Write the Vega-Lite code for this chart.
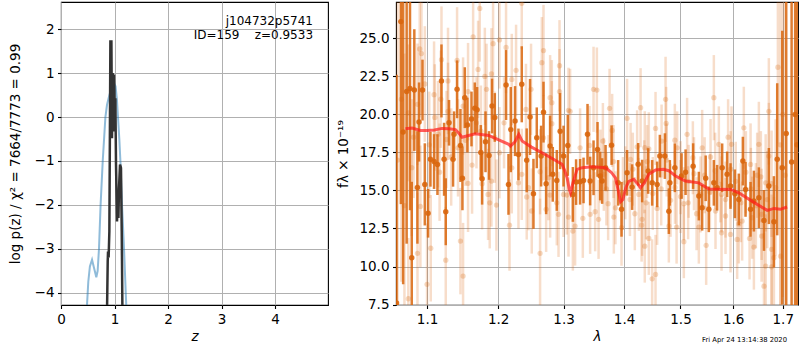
{
"$schema": "https://vega.github.io/schema/vega-lite/v6.json",
"padding": {"left": 7, "top": 1, "right": 0, "bottom": 0},
"spacing": 7,
"config": {
  "font": "DejaVu Sans",
  "view": {"stroke": "black", "strokeWidth": 1.1},
  "axis": {"domain": false, "grid": true, "gridColor": "#b0b0b0", "gridWidth": 1, "tickColor": "black", "tickSize": 3.5, "tickWidth": 1.1, "labelFontSize": 13.5, "labelColor": "black", "titleFontSize": 13.5, "titleFontWeight": "normal", "titleColor": "black", "labelPadding": 3.5, "labelFlush": false, "labelOverlap": false},
  "title": {"font": "DejaVu Sans", "color": "black"}
},
"datasets": {
  "blue": [
    {"z":0.47,"logp":-4.7},{"z":0.486,"logp":-4.28},{"z":0.51,"logp":-3.75},{"z":0.54,"logp":-3.4},{"z":0.58,"logp":-3.25},{"z":0.62,"logp":-3.45},{"z":0.66,"logp":-3.65},{"z":0.685,"logp":-3.5},{"z":0.71,"logp":-3.0},{"z":0.74,"logp":-2.0},{"z":0.78,"logp":-1.0},{"z":0.83,"logp":0.0},{"z":0.86,"logp":0.28},{"z":0.9,"logp":0.48},{"z":0.94,"logp":0.65},{"z":0.985,"logp":0.78},{"z":1.02,"logp":0.7},{"z":1.045,"logp":0.4},{"z":1.065,"logp":0.0},{"z":1.09,"logp":-0.5},{"z":1.11,"logp":-1.0},{"z":1.14,"logp":-2.0},{"z":1.178,"logp":-3.0},{"z":1.21,"logp":-4.0},{"z":1.23,"logp":-4.6}
  ],
  "black": [
    {"z":0.86,"logp":-4.43},{"z":0.873,"logp":-3.29},{"z":0.879,"logp":-3.06},{"z":0.89,"logp":-3.2},{"z":0.904,"logp":-2.6},{"z":0.923,"logp":1.72},{"z":0.942,"logp":1.72},{"z":0.953,"logp":-0.48},{"z":0.966,"logp":1.0},{"z":0.979,"logp":-0.33},{"z":0.991,"logp":0.97},{"z":1.004,"logp":0.05},{"z":1.016,"logp":0.43},{"z":1.028,"logp":-1.08},{"z":1.047,"logp":-2.38},{"z":1.06,"logp":-1.69},{"z":1.073,"logp":-2.3},{"z":1.084,"logp":-1.62},{"z":1.103,"logp":-1.08},{"z":1.121,"logp":-1.16},{"z":1.135,"logp":-2.6},{"z":1.148,"logp":-4.43}
  ],
  "light": [
    {"lam":1.061,"flux":17,"err":12},{"lam":1.066,"flux":21,"err":12},{"lam":1.07,"flux":14,"err":10},
    {"lam":1.0751,"flux":20.1,"err":4.5},{"lam":1.0751,"flux":7.88,"err":4},{"lam":1.0796,"flux":16.5,"err":4.5},{"lam":1.082,"flux":18.5,"err":4},{"lam":1.0872,"flux":20.66,"err":4},{"lam":1.0872,"flux":10.86,"err":4},{"lam":1.0902,"flux":24.3,"err":4.5},{"lam":1.0911,"flux":13.95,"err":4},{"lam":1.0925,"flux":24.0,"err":4},{"lam":1.097,"flux":22.0,"err":3.8},{"lam":1.1,"flux":8.83,"err":4},{"lam":1.103,"flux":18.0,"err":3.5},{"lam":1.105,"flux":11.2,"err":3.5},{"lam":1.1095,"flux":21.3,"err":3.5},{"lam":1.1105,"flux":19.8,"err":3.5},{"lam":1.1149,"flux":18.7,"err":3.5},{"lam":1.117,"flux":16.2,"err":3.2},{"lam":1.1187,"flux":21.0,"err":3.2},{"lam":1.1196,"flux":23.6,"err":3.5},{"lam":1.1255,"flux":10.42,"err":3.5},{"lam":1.1265,"flux":18.35,"err":3.2},{"lam":1.1286,"flux":22.2,"err":3.5},{"lam":1.1286,"flux":20.2,"err":3.2},{"lam":1.133,"flux":17.2,"err":3.2},{"lam":1.1412,"flux":23.55,"err":3.5},{"lam":1.1425,"flux":17.8,"err":3.2},{"lam":1.1459,"flux":11.67,"err":3.5},{"lam":1.1496,"flux":20.55,"err":3.2},{"lam":1.1496,"flux":9.37,"err":3.5},{"lam":1.153,"flux":18.3,"err":3},{"lam":1.1566,"flux":21.5,"err":3.2},{"lam":1.1566,"flux":15.47,"err":3.2},{"lam":1.1623,"flux":16.67,"err":3.2},{"lam":1.1638,"flux":25.1,"err":3.5},{"lam":1.1686,"flux":19.45,"err":3.0},{"lam":1.1709,"flux":22.96,"err":3.2},{"lam":1.1733,"flux":26.97,"err":3.5},{"lam":1.175,"flux":18.9,"err":3},{"lam":1.1767,"flux":15.44,"err":3.0},{"lam":1.1806,"flux":22.5,"err":3.2},{"lam":1.1831,"flux":21.65,"err":3.0},{"lam":1.1853,"flux":14.74,"err":3.0},{"lam":1.1877,"flux":14.19,"err":3.0},{"lam":1.1902,"flux":22.67,"err":3.0},{"lam":1.1902,"flux":15.62,"err":3.0},{"lam":1.1926,"flux":24.65,"err":3.2},{"lam":1.195,"flux":18.5,"err":3},{"lam":1.1975,"flux":14.04,"err":3.0},
    {"lam":1.2019,"flux":24.9,"err":3.2},{"lam":1.2019,"flux":17.48,"err":3.0},{"lam":1.2087,"flux":19.45,"err":3.0},{"lam":1.2117,"flux":24.4,"err":3.0},{"lam":1.2168,"flux":12.72,"err":3.0},{"lam":1.2202,"flux":22.3,"err":3.0},{"lam":1.2202,"flux":16.49,"err":3.0},{"lam":1.2266,"flux":22.9,"err":3.0},{"lam":1.2302,"flux":15.5,"err":3.0},{"lam":1.2352,"flux":27.3,"err":3.0},{"lam":1.2352,"flux":16.06,"err":3.0},{"lam":1.2416,"flux":20.33,"err":3.0},{"lam":1.2427,"flux":14.57,"err":2.8},{"lam":1.2454,"flux":15.18,"err":2.8},{"lam":1.2493,"flux":21.65,"err":3.0},{"lam":1.2504,"flux":13.65,"err":2.8},{"lam":1.2632,"flux":16.23,"err":2.8},{"lam":1.2632,"flux":10.86,"err":3.6},{"lam":1.2659,"flux":23.4,"err":3.0},{"lam":1.2685,"flux":24.2,"err":3.0},{"lam":1.2685,"flux":18.46,"err":2.8},{"lam":1.2726,"flux":13.76,"err":2.8},{"lam":1.2762,"flux":15.84,"err":2.8},{"lam":1.2788,"flux":21.1,"err":2.8},{"lam":1.2788,"flux":14.7,"err":2.8},{"lam":1.2815,"flux":20.77,"err":2.8},{"lam":1.2815,"flux":19.39,"err":2.8},{"lam":1.2893,"flux":14.19,"err":2.8},{"lam":1.292,"flux":13.43,"err":2.8},{"lam":1.2936,"flux":23.2,"err":3.0},{"lam":1.2936,"flux":21.5,"err":2.8},{"lam":1.3,"flux":14.74,"err":2.8},{"lam":1.3052,"flux":14.7,"err":2.6},{"lam":1.3079,"flux":20.27,"err":2.8},{"lam":1.3079,"flux":13.25,"err":2.6},{"lam":1.3105,"flux":20.2,"err":2.8},{"lam":1.3149,"flux":12.33,"err":2.6},{"lam":1.3185,"flux":12.66,"err":2.6},{"lam":1.3266,"flux":17.8,"err":2.6},{"lam":1.331,"flux":13.17,"err":2.6},{"lam":1.342,"flux":17.96,"err":2.6},{"lam":1.343,"flux":13.43,"err":2.6},{"lam":1.3486,"flux":21.65,"err":2.8},{"lam":1.3513,"flux":13.6,"err":2.6},{"lam":1.3541,"flux":21.6,"err":2.8},{"lam":1.3569,"flux":13.1,"err":2.6},
    {"lam":1.36,"flux":16.6,"err":2.4},{"lam":1.3641,"flux":18.25,"err":2.5},{"lam":1.3657,"flux":16.06,"err":2.4},{"lam":1.37,"flux":15.1,"err":2.4},{"lam":1.3729,"flux":14.13,"err":2.4},{"lam":1.3753,"flux":20.4,"err":2.6},{"lam":1.3797,"flux":18.95,"err":2.4},{"lam":1.382,"flux":16.9,"err":2.4},{"lam":1.3825,"flux":13.25,"err":2.4},{"lam":1.3853,"flux":13.86,"err":2.4},{"lam":1.3956,"flux":12.55,"err":2.5},{"lam":1.398,"flux":14.8,"err":2.4},{"lam":1.402,"flux":15.5,"err":2.4},{"lam":1.4051,"flux":19.74,"err":2.6},{"lam":1.41,"flux":14.4,"err":2.4},{"lam":1.4111,"flux":17.04,"err":2.4},{"lam":1.415,"flux":16.4,"err":2.4},{"lam":1.4185,"flux":13.47,"err":2.4},{"lam":1.4225,"flux":17.87,"err":2.4},{"lam":1.4255,"flux":14.74,"err":2.4},{"lam":1.4285,"flux":20.44,"err":2.6},{"lam":1.4303,"flux":12.72,"err":2.4},{"lam":1.4313,"flux":13.1,"err":2.4},{"lam":1.435,"flux":15.9,"err":2.4},{"lam":1.4359,"flux":17.81,"err":2.4},{"lam":1.4359,"flux":11.34,"err":2.4},{"lam":1.4382,"flux":14.19,"err":2.4},{"lam":1.44,"flux":16.9,"err":2.4},{"lam":1.443,"flux":17.74,"err":2.4},{"lam":1.443,"flux":11.85,"err":2.4},{"lam":1.4489,"flux":9.19,"err":2.6},{"lam":1.45,"flux":14.8,"err":2.4},{"lam":1.4549,"flux":19.08,"err":2.4},{"lam":1.4549,"flux":9.48,"err":2.6},{"lam":1.4578,"flux":13.82,"err":2.4},{"lam":1.4657,"flux":18.25,"err":2.4},{"lam":1.465,"flux":15.1,"err":2.4},{"lam":1.4729,"flux":20.99,"err":2.8},{"lam":1.474,"flux":19.41,"err":2.4},{"lam":1.475,"flux":17.0,"err":2.4},{"lam":1.4788,"flux":12.66,"err":2.4},{"lam":1.4819,"flux":14.35,"err":2.4},{"lam":1.4897,"flux":18.3,"err":2.4},{"lam":1.49,"flux":15.2,"err":2.4},{"lam":1.4929,"flux":12.59,"err":2.4},{"lam":1.4939,"flux":17.8,"err":2.4},{"lam":1.5,"flux":14.6,"err":2.4},{"lam":1.5001,"flux":15.84,"err":2.4},{"lam":1.5062,"flux":14.13,"err":2.4},{"lam":1.5062,"flux":11.63,"err":2.4},{"lam":1.5122,"flux":18.69,"err":2.4},{"lam":1.5141,"flux":14.19,"err":2.4},{"lam":1.515,"flux":15.6,"err":2.4},{"lam":1.5229,"flux":17.15,"err":2.4},{"lam":1.525,"flux":16.1,"err":2.4},{"lam":1.5298,"flux":13.47,"err":2.4},{"lam":1.5341,"flux":12.59,"err":2.4},
    {"lam":1.5373,"flux":14.74,"err":2.5},{"lam":1.5403,"flux":17.8,"err":2.5},{"lam":1.545,"flux":16.0,"err":2.5},{"lam":1.5479,"flux":11.39,"err":2.6},{"lam":1.555,"flux":14.9,"err":2.5},{"lam":1.5562,"flux":17.2,"err":2.5},{"lam":1.5625,"flux":21.1,"err":2.8},{"lam":1.565,"flux":16.3,"err":2.5},{"lam":1.5657,"flux":13.65,"err":2.5},{"lam":1.5721,"flux":18.03,"err":2.5},{"lam":1.575,"flux":15.4,"err":2.5},{"lam":1.5773,"flux":14.74,"err":2.5},{"lam":1.5773,"flux":12.22,"err":2.5},{"lam":1.585,"flux":13.32,"err":2.5},{"lam":1.585,"flux":14.4,"err":2.5},{"lam":1.59,"flux":18.5,"err":2.5},{"lam":1.595,"flux":16.4,"err":2.5},{"lam":1.5947,"flux":12.11,"err":2.5},{"lam":1.5967,"flux":18.03,"err":2.5},{"lam":1.605,"flux":15.6,"err":2.6},{"lam":1.6077,"flux":11.78,"err":2.6},{"lam":1.611,"flux":12.8,"err":2.6},{"lam":1.615,"flux":14.2,"err":2.6},{"lam":1.6176,"flux":12.99,"err":2.6},{"lam":1.6209,"flux":19.12,"err":2.7},{"lam":1.625,"flux":16.2,"err":2.7},{"lam":1.6323,"flux":11.85,"err":2.7},{"lam":1.6343,"flux":16.71,"err":2.7},{"lam":1.635,"flux":15.1,"err":2.7},{"lam":1.6375,"flux":13.21,"err":2.7},{"lam":1.641,"flux":11.28,"err":2.8},{"lam":1.645,"flux":14.0,"err":2.8},{"lam":1.6476,"flux":16.0,"err":2.8},{"lam":1.651,"flux":18.03,"err":2.8},{"lam":1.655,"flux":15.9,"err":3.0},{"lam":1.6565,"flux":13.43,"err":3.0},{"lam":1.6565,"flux":12.0,"err":3.0},{"lam":1.6614,"flux":8.71,"err":3.5},{"lam":1.6648,"flux":15.5,"err":3.2},{"lam":1.6648,"flux":10.03,"err":3.4},{"lam":1.668,"flux":14.4,"err":3.2},{"lam":1.6713,"flux":20.2,"err":3.5},{"lam":1.6713,"flux":17.26,"err":3.5},{"lam":1.6769,"flux":15.44,"err":3.5},{"lam":1.6769,"flux":11.13,"err":3.6},{"lam":1.6769,"flux":9.98,"err":3.8},{"lam":1.6817,"flux":10.58,"err":4},{"lam":1.6852,"flux":15.18,"err":4.5},{"lam":1.6899,"flux":23.1,"err":5},{"lam":1.6955,"flux":10.68,"err":6},{"lam":1.695,"flux":18,"err":12},{"lam":1.7,"flux":20,"err":12},{"lam":1.705,"flux":16,"err":12}
  ],
  "dark": [
    {"lam":1.0597,"flux":7.6,"err":15},{"lam":1.0653,"flux":26.1,"err":12},{"lam":1.0683,"flux":18.84,"err":10},{"lam":1.0729,"flux":21.5,"err":10},{"lam":1.0773,"flux":21.7,"err":8},{"lam":1.0796,"flux":10.57,"err":5},{"lam":1.083,"flux":21.6,"err":4},{"lam":1.0871,"flux":15.2,"err":3.7},{"lam":1.0893,"flux":19.5,"err":2.6},{"lam":1.0939,"flux":21.6,"err":2},{"lam":1.097,"flux":15.4,"err":2.7},{"lam":1.1014,"flux":13.5,"err":1.6},{"lam":1.1046,"flux":17.05,"err":1.8},{"lam":1.1095,"flux":16.9,"err":1.8},{"lam":1.1141,"flux":16.7,"err":2},{"lam":1.1196,"flux":22.2,"err":2.4},{"lam":1.1232,"flux":17.05,"err":2.4},{"lam":1.1255,"flux":13.6,"err":2.2},{"lam":1.13,"flux":19.45,"err":1.5},{"lam":1.1356,"flux":17.05,"err":1.8},{"lam":1.137,"flux":18.7,"err":1.5},{"lam":1.1412,"flux":21.65,"err":1.9},{"lam":1.1459,"flux":17.96,"err":2.4},{"lam":1.1487,"flux":15.8,"err":2.1},{"lam":1.152,"flux":21.1,"err":2},{"lam":1.1557,"flux":19.3,"err":1.8},{"lam":1.1615,"flux":19.7,"err":1.8},{"lam":1.1662,"flux":20.4,"err":1.7},{"lam":1.1695,"flux":20.3,"err":1.5},{"lam":1.1748,"flux":17.5,"err":1.8},{"lam":1.1767,"flux":15.77,"err":1.7},{"lam":1.1816,"flux":18.2,"err":2},{"lam":1.1867,"flux":17.3,"err":1.6},{"lam":1.1911,"flux":20.55,"err":1.8},{"lam":1.1951,"flux":19.8,"err":1.6},
    {"lam":1.2117,"flux":21.93,"err":2.3},{"lam":1.2153,"flux":15.4,"err":2},{"lam":1.2187,"flux":19.0,"err":2.8},{"lam":1.2251,"flux":19.56,"err":2.3},{"lam":1.2302,"flux":17.37,"err":1.7},{"lam":1.2352,"flux":21.98,"err":2.5},{"lam":1.2427,"flux":16.98,"err":2.1},{"lam":1.2478,"flux":19.83,"err":2.5},{"lam":1.253,"flux":14.78,"err":2.3},{"lam":1.2581,"flux":18.46,"err":2},{"lam":1.2648,"flux":17.26,"err":2},{"lam":1.2685,"flux":20.15,"err":2},{"lam":1.2726,"flux":15.44,"err":2},{"lam":1.2788,"flux":17.92,"err":2},{"lam":1.283,"flux":16.06,"err":1.8},{"lam":1.2893,"flux":15.66,"err":2},{"lam":1.2946,"flux":18.9,"err":2.5},{"lam":1.3,"flux":17.26,"err":2},{"lam":1.3068,"flux":17.96,"err":2},{"lam":1.3149,"flux":14.74,"err":1.8},{"lam":1.3201,"flux":15.55,"err":1.5},{"lam":1.3266,"flux":15.57,"err":1.5},{"lam":1.3322,"flux":15.66,"err":1.5},{"lam":1.3387,"flux":18.69,"err":2},{"lam":1.343,"flux":15.62,"err":1.6},{"lam":1.3486,"flux":16.49,"err":1.8},{"lam":1.3552,"flux":17.7,"err":1.8},{"lam":1.3596,"flux":15.95,"err":1.6},
    {"lam":1.3629,"flux":15.62,"err":1.5},{"lam":1.3686,"flux":16.49,"err":1.5},{"lam":1.3787,"flux":17.98,"err":1.3},{"lam":1.3898,"flux":15.5,"err":1.5},{"lam":1.3956,"flux":13.76,"err":1.8},{"lam":1.4051,"flux":16.16,"err":1.5},{"lam":1.4138,"flux":15.22,"err":1.5},{"lam":1.4243,"flux":16.72,"err":1.4},{"lam":1.4313,"flux":15.62,"err":1.4},{"lam":1.4418,"flux":16.28,"err":1.5},{"lam":1.4489,"flux":15.5,"err":1.5},{"lam":1.4578,"flux":15.4,"err":1.5},{"lam":1.4626,"flux":17.26,"err":1.4},{"lam":1.4716,"flux":17.26,"err":1.5},{"lam":1.4788,"flux":13.64,"err":1.5},{"lam":1.4806,"flux":15.5,"err":1.5},{"lam":1.4897,"flux":16.49,"err":1.6},{"lam":1.502,"flux":15.95,"err":1.5},{"lam":1.5094,"flux":16.2,"err":1.5},{"lam":1.5234,"flux":16.6,"err":1.5},{"lam":1.5341,"flux":14.63,"err":1.6},{"lam":1.5403,"flux":13.86,"err":1.5},{"lam":1.547,"flux":15.8,"err":1.5},{"lam":1.5529,"flux":13.76,"err":1.5},{"lam":1.5625,"flux":15.5,"err":1.5},{"lam":1.5688,"flux":15.18,"err":1.5},{"lam":1.5785,"flux":16.49,"err":1.6},{"lam":1.5881,"flux":16.06,"err":1.5},{"lam":1.5947,"flux":15.29,"err":1.5},{"lam":1.6032,"flux":14.78,"err":1.6},{"lam":1.611,"flux":14.41,"err":1.7},{"lam":1.619,"flux":16.93,"err":1.6},{"lam":1.6243,"flux":15.07,"err":1.8},{"lam":1.6343,"flux":13.76,"err":1.8},{"lam":1.641,"flux":14.3,"err":2},{"lam":1.651,"flux":14.52,"err":2},{"lam":1.6614,"flux":13.03,"err":2},{"lam":1.6713,"flux":15.29,"err":2.5},{"lam":1.6817,"flux":12.94,"err":3},{"lam":1.6885,"flux":17.05,"err":5},{"lam":1.699,"flux":16.5,"err":9},{"lam":1.7072,"flux":18.75,"err":12},{"lam":1.7185,"flux":16.87,"err":12},{"lam":1.726,"flux":20,"err":14},{"lam":1.73,"flux":18,"err":14}
  ],
  "model": [
    {"lam":1.0713,"flux":19.06},{"lam":1.08,"flux":19.1},{"lam":1.0911,"flux":18.95},{"lam":1.1,"flux":18.95},{"lam":1.11,"flux":18.98},{"lam":1.1204,"flux":19.08},{"lam":1.13,"flux":19.05},{"lam":1.1389,"flux":19.0},{"lam":1.143,"flux":18.8},{"lam":1.1482,"flux":18.5},{"lam":1.156,"flux":18.6},{"lam":1.1671,"flux":18.73},{"lam":1.1863,"flux":18.62},{"lam":1.2,"flux":18.35},{"lam":1.2157,"flux":18.03},{"lam":1.2182,"flux":17.92},{"lam":1.225,"flux":18.2},{"lam":1.2307,"flux":18.69},{"lam":1.2357,"flux":18.25},{"lam":1.25,"flux":17.85},{"lam":1.2663,"flux":17.48},{"lam":1.28,"flux":17.15},{"lam":1.2976,"flux":16.72},{"lam":1.302,"flux":16.3},{"lam":1.3057,"flux":15.83},{"lam":1.309,"flux":15.1},{"lam":1.311,"flux":14.85},{"lam":1.315,"flux":15.5},{"lam":1.3217,"flux":16.39},{"lam":1.33,"flux":16.5},{"lam":1.3462,"flux":16.56},{"lam":1.3685,"flux":16.49},{"lam":1.378,"flux":16.2},{"lam":1.3853,"flux":15.83},{"lam":1.39,"flux":15.0},{"lam":1.3939,"flux":14.25},{"lam":1.398,"flux":14.4},{"lam":1.403,"flux":15.2},{"lam":1.408,"flux":15.6},{"lam":1.4167,"flux":15.73},{"lam":1.423,"flux":15.45},{"lam":1.4284,"flux":15.18},{"lam":1.435,"flux":15.5},{"lam":1.4428,"flux":16.06},{"lam":1.455,"flux":16.35},{"lam":1.469,"flux":16.39},{"lam":1.4785,"flux":16.3},{"lam":1.491,"flux":15.95},{"lam":1.509,"flux":15.62},{"lam":1.534,"flux":15.5},{"lam":1.553,"flux":15.1},{"lam":1.595,"flux":15.07},{"lam":1.611,"flux":14.85},{"lam":1.637,"flux":14.3},{"lam":1.668,"flux":13.69},{"lam":1.682,"flux":13.82},{"lam":1.695,"flux":13.76},{"lam":1.709,"flux":13.91}
  ]
},
"hconcat": [
  {
    "width": 267, "height": 303,
    "layer": [
      {
        "data": {"name": "blue"},
        "mark": {"type": "line", "color": "#1f77b4", "opacity": 0.5, "strokeWidth": 2, "clip": true},
        "encoding": {
          "x": {"field": "z", "type": "quantitative", "scale": {"domain": [0, 4.99], "nice": false, "zero": false}, "axis": {"values": [0,1,2,3,4], "format": "d", "title": "z", "titleFontStyle": "italic", "titlePadding": 4}},
          "y": {"field": "logp", "type": "quantitative", "scale": {"domain": [-4.28, 2.62], "nice": false, "zero": false}, "axis": {"values": [-4,-3,-2,-1,0,1,2], "format": "d", "title": "log p(z) / χ² = 7664/7773 = 0.99", "titlePadding": 12}}
        }
      },
      {
        "data": {"name": "black"},
        "mark": {"type": "line", "color": "#333333", "strokeWidth": 2.5, "clip": true},
        "encoding": {
          "x": {"field": "z", "type": "quantitative"},
          "y": {"field": "logp", "type": "quantitative"}
        }
      },
      {
        "data": {"values": [{}]},
        "mark": {"type": "text", "align": "right", "baseline": "middle", "fontSize": 12, "color": "black"},
        "encoding": {"x": {"datum": 4.71}, "y": {"datum": 2.18}, "text": {"value": "j104732p5741"}}
      },
      {
        "data": {"values": [{}]},
        "mark": {"type": "text", "align": "right", "baseline": "middle", "fontSize": 12, "color": "black"},
        "encoding": {"x": {"datum": 4.71}, "y": {"datum": 1.86}, "text": {"value": "ID=159\u00a0\u00a0\u00a0\u00a0z=0.9533"}}
      }
    ]
  },
  {
    "width": 402, "height": 303,
    "title": {"text": "Fri Apr 24 13:14:38 2020", "orient": "bottom", "anchor": "end", "fontSize": 6.8, "fontWeight": "normal", "offset": -6, "dx": -11},
    "encoding": {
      "x": {"field": "lam", "type": "quantitative", "scale": {"type": "log", "domain": [1.059, 1.732], "nice": false, "zero": false}, "axis": {"values": [1.1,1.2,1.3,1.4,1.5,1.6,1.7], "format": ".1f", "title": "λ", "titleFontStyle": "italic", "titlePadding": 4}},
      "y": {"field": "flux", "type": "quantitative", "scale": {"domain": [7.47, 27.39], "nice": false, "zero": false, "clamp": true}, "axis": {"values": [7.5,10,12.5,15,17.5,20,22.5,25], "format": ".1f", "title": "fλ × 10⁻¹⁹", "titlePadding": 8}}
    },
    "layer": [
      {
        "data": {"name": "light"},
        "mark": {"type": "errorbar", "ticks": false, "color": "#d9660d", "opacity": 0.22, "thickness": 2.5, "clip": true},
        "encoding": {"yError": {"field": "err"}}
      },
      {
        "data": {"name": "light"},
        "mark": {"type": "circle", "size": 28, "color": "#d9660d", "opacity": 0.25, "clip": true}
      },
      {
        "data": {"name": "dark"},
        "mark": {"type": "errorbar", "ticks": false, "color": "#d9660d", "opacity": 0.85, "thickness": 2.5, "clip": true},
        "encoding": {"yError": {"field": "err"}}
      },
      {
        "data": {"name": "dark"},
        "mark": {"type": "circle", "size": 30, "color": "#d9660d", "opacity": 0.9, "clip": true}
      },
      {
        "data": {"name": "model"},
        "mark": {"type": "line", "color": "#ff1a1a", "opacity": 0.7, "strokeWidth": 3, "clip": true},
        "encoding": {}
      }
    ]
  }
]
}
